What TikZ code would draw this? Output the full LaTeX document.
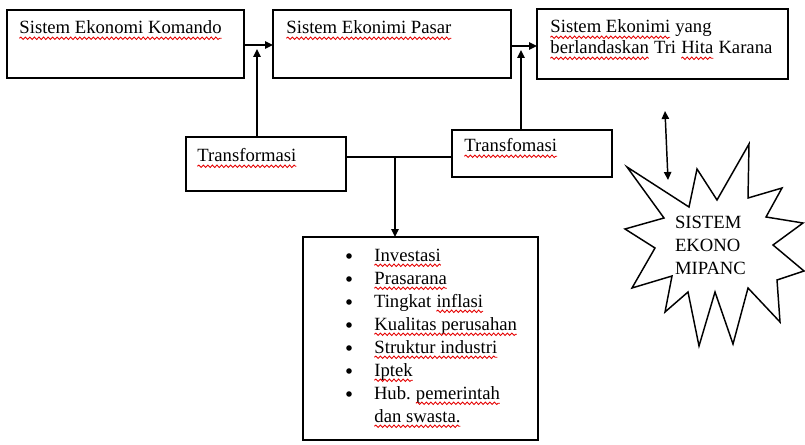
\documentclass[tikz,border=0pt]{standalone}
\usepackage{fontspec}
\setmainfont{Liberation Serif}
\usetikzlibrary{arrows.meta,decorations.pathmorphing}

% red wavy underline, as a spell checker draws it
\newcommand\redwave[1]{\tikz[baseline=(w.base)]{%
  \node[inner sep=0pt, outer sep=0pt, anchor=base] (w) {#1};%
  \draw[red!90!black, line width=0.65pt, decorate,
        decoration={snake, amplitude=0.9pt, segment length=3.4pt}]
    ([yshift=-3.2pt]w.base west) -- ([yshift=-3.2pt]w.base east);}}

\tikzset{
  box/.style={draw, line width=1.1pt, inner sep=0pt, outer sep=0pt, anchor=north west},
  txt/.style={anchor=base west, inner sep=0pt, outer sep=0pt},
  arr/.style={line width=1.1pt, -{Triangle[length=6pt,width=5.5pt]}},
  dblarr/.style={line width=1.1pt, {Triangle[length=6pt,width=5.5pt]}-{Triangle[length=6pt,width=5.5pt]}},
}

\begin{document}
\begin{tikzpicture}[x=0.75pt, y=-0.75pt, font=\fontsize{14pt}{17pt}\selectfont]
\useasboundingbox (0,0) rectangle (805,445);

% top row of systems
\node[box, minimum width={237*0.75pt}, minimum height={68*0.75pt}] (b1) at (7,10) {};
\node[box, minimum width={238*0.75pt}, minimum height={68*0.75pt}] (b2) at (273,10) {};
\node[box, minimum width={251*0.75pt}, minimum height={70*0.75pt}] (b3) at (537,9) {};

\node[txt] (x1) at (19,34) {\redwave{Sistem Ekonomi Komando}};
\node[txt] (x2) at (286,34) {\redwave{Sistem Ekonimi Pasar}};
\node[txt] (x3a) at (550,33) {\redwave{Sistem Ekonimi} yang};
\node[txt] (x3b) at (550,54) {\redwave{berlandaskan} Tri \redwave{Hita} Karana};

% transformation boxes
\node[box, minimum width={160*0.75pt}, minimum height={54*0.75pt}] (t1) at (186,137) {};
\node[box, minimum width={160*0.75pt}, minimum height={47*0.75pt}] (t2) at (452,130) {};
\node[txt] (tt1) at (197,162) {\redwave{Transformasi}};
\node[txt] (tt2) at (464,152) {\redwave{Transfomasi}};

% factor list
\node[box, minimum width={235*0.75pt}, minimum height={203*0.75pt}] (bl) at (303,237) {};
\node[txt] (i1) at (374,261) {\redwave{Investasi}};
\node[txt] (i2) at (374,284) {\redwave{Prasarana}};
\node[txt] (i3) at (374,307) {Tingkat \redwave{inflasi}};
\node[txt] (i4) at (374,330) {\redwave{Kualitas perusahan}};
\node[txt] (i5) at (374,353) {\redwave{Struktur industri}};
\node[txt] (i6) at (374,376) {\redwave{Iptek}};
\node[txt] (i7) at (374,399) {Hub.\ \redwave{pemerintah}};
\node[txt] (i8) at (374,422) {\redwave{dan swasta.}};
\foreach \yy in {256,279,302,325,348,371,394}
  \fill (349,\yy) circle[radius=2.1pt];

% connectors
\coordinate (m1) at (257,45);
\coordinate (u1) at (257,49);
\coordinate (m2) at (521,46);
\coordinate (u2) at (521,50);
\coordinate (j) at (395,157);

\draw[arr] (b1.east |- m1) -- (b2.west |- m1);
\draw[arr] (b2.east |- m2) -- (b3.west |- m2);
\draw[arr] (t1.north -| u1) -- (u1);
\draw[arr] (t2.north -| u2) -- (u2);
\draw[line width=1.1pt] (t1.east |- j) -- (t2.west |- j);
\draw[arr] (j) -- (j |- bl.north);

% explosion shape
\draw[line width=1.1pt, line join=miter]
  (627,167) -- (689,207) -- (697,169) -- (717,200) -- (749,144) -- (748,198)
  -- (782,188) -- (766,217) -- (803,223) -- (773,245) -- (804,271) -- (777,280)
  -- (780,322) -- (748,288) -- (733,344) -- (715,292) -- (699,346) -- (688,292)
  -- (665,312) -- (672,276) -- (632,288) -- (655,248) -- (625,229) -- (664,218)
  -- cycle;
\node[txt] (s1) at (675,228) {SISTEM};
\node[txt] (s2) at (675,251) {EKONO};
\node[txt] (s3) at (675,274) {MIPANC};

\coordinate (da) at (665,111);
\coordinate (db) at (668,180);
\draw[dblarr] (da) -- (db);
\end{tikzpicture}
\end{document}
